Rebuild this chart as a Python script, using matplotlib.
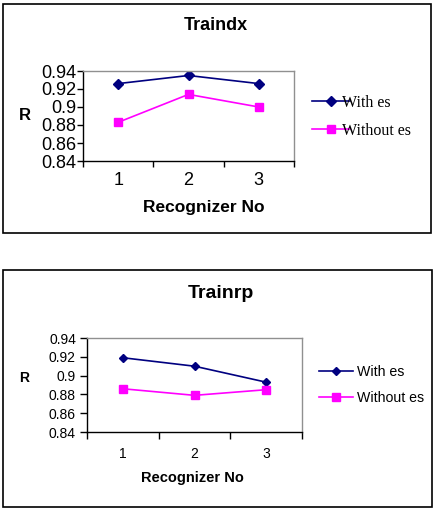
import matplotlib
matplotlib.use("Agg")
import matplotlib.pyplot as plt
from matplotlib.patches import Rectangle

W, H = 437, 511
DPI = 100

recognizers = [1, 2, 3]
tick_labels = ["1", "2", "3"]
traindx_with = [0.926, 0.935, 0.926]
traindx_without = [0.883, 0.914, 0.900]
trainrp_with = [0.919, 0.910, 0.893]
trainrp_without = [0.886, 0.879, 0.885]
yticks = [0.84, 0.86, 0.88, 0.90, 0.92, 0.94]
ytick_labels = ["0.84", "0.86", "0.88", "0.9", "0.92", "0.94"]
series_names = ["With es", "Without es"]

NAVY = "#000080"
MAG = "#FF00FF"

plt.rcParams['font.family'] = ['Liberation Sans', 'DejaVu Sans']

fig = plt.figure(figsize=(W / DPI, H / DPI), dpi=DPI)


def fx(px):
    return px / W


def fy(py):
    return 1 - py / H


def box(x0, y0, x1, y1):
    fig.patches.append(Rectangle((fx(x0), fy(y1)), fx(x1) - fx(x0), fy(y0) - fy(y1),
                                 transform=fig.transFigure, fill=False,
                                 edgecolor="black", linewidth=1.2))


def panel(rect, title, with_vals, without_vals, tick_fs, title_fs, xlabel_fs, r_fs,
          leg_fs, leg_font, title_pos, xlabel_pos, r_pos, leg_anchor, textpad, tickpad,
          labelspacing, ytick_len, ytick_pad, msize):
    x0, y0, x1, y1 = rect
    ax = fig.add_axes([fx(x0), fy(y1), fx(x1) - fx(x0), fy(y0) - fy(y1)])
    l1, = ax.plot(recognizers, with_vals, color=NAVY, marker="D", markersize=msize,
                  linewidth=1.2, label=series_names[0])
    l2, = ax.plot(recognizers, without_vals, color=MAG, marker="s", markersize=msize + 1,
                  linewidth=1.2, label=series_names[1])
    ax.set_xlim(0.5, 3.5)
    ax.set_ylim(0.84, 0.94)
    ax.set_yticks(yticks)
    ax.set_yticklabels(ytick_labels, fontsize=tick_fs)
    ax.set_xticks([0.5, 1.5, 2.5, 3.5])
    ax.set_xticklabels([])
    ax.set_xticks(recognizers, minor=True)
    ax.set_xticklabels(tick_labels, minor=True, fontsize=tick_fs)
    ax.tick_params(axis="x", which="minor", length=0, pad=tickpad)
    ax.tick_params(axis="x", which="major", length=ytick_len, direction="out", width=1)
    ax.tick_params(axis="y", length=ytick_len, direction="out", width=1, pad=ytick_pad)
    for s in ["top", "right"]:
        ax.spines[s].set_color("#909090")
        ax.spines[s].set_linewidth(1)
    for s in ["left", "bottom"]:
        ax.spines[s].set_color("black")
        ax.spines[s].set_linewidth(1)
    fig.text(fx(title_pos[0]), fy(title_pos[1]), title, fontsize=title_fs,
             fontweight="bold", ha="center", va="center")
    fig.text(fx(xlabel_pos[0]), fy(xlabel_pos[1]), "Recognizer No", fontsize=xlabel_fs,
             fontweight="bold", ha="center", va="center")
    fig.text(fx(r_pos[0]), fy(r_pos[1]), "R", fontsize=r_fs,
             fontweight="bold", ha="center", va="center")
    fig.legend(handles=[l1, l2], loc="center left",
               bbox_to_anchor=(fx(leg_anchor[0]), fy(leg_anchor[1])),
               frameon=False, prop={"family": leg_font, "size": leg_fs},
               handlelength=2.4, handletextpad=textpad, labelspacing=labelspacing,
               borderaxespad=0, borderpad=0)
    return ax


box(3, 4, 431, 233)
box(3, 270, 432, 507)

panel((83, 71, 294, 161), "Traindx", traindx_with, traindx_without,
      tick_fs=13, title_fs=13, xlabel_fs=12.5, r_fs=12, leg_fs=11.5,
      leg_font="Liberation Serif",
      title_pos=(216, 26), xlabel_pos=(204, 207), r_pos=(25, 115),
      leg_anchor=(312, 117), textpad=-0.5, tickpad=8, labelspacing=0.75,
      ytick_len=4, ytick_pad=1, msize=5)

panel((87, 338, 302, 432), "Trainrp", trainrp_with, trainrp_without,
      tick_fs=10, title_fs=14, xlabel_fs=10.5, r_fs=10, leg_fs=10.2,
      leg_font="Liberation Sans",
      title_pos=(221, 293), xlabel_pos=(192, 478), r_pos=(24, 378),
      leg_anchor=(319, 385), textpad=0.3, tickpad=11, labelspacing=0.9,
      ytick_len=5, ytick_pad=3, msize=4.5)

fig.savefig("out.png", dpi=DPI)
